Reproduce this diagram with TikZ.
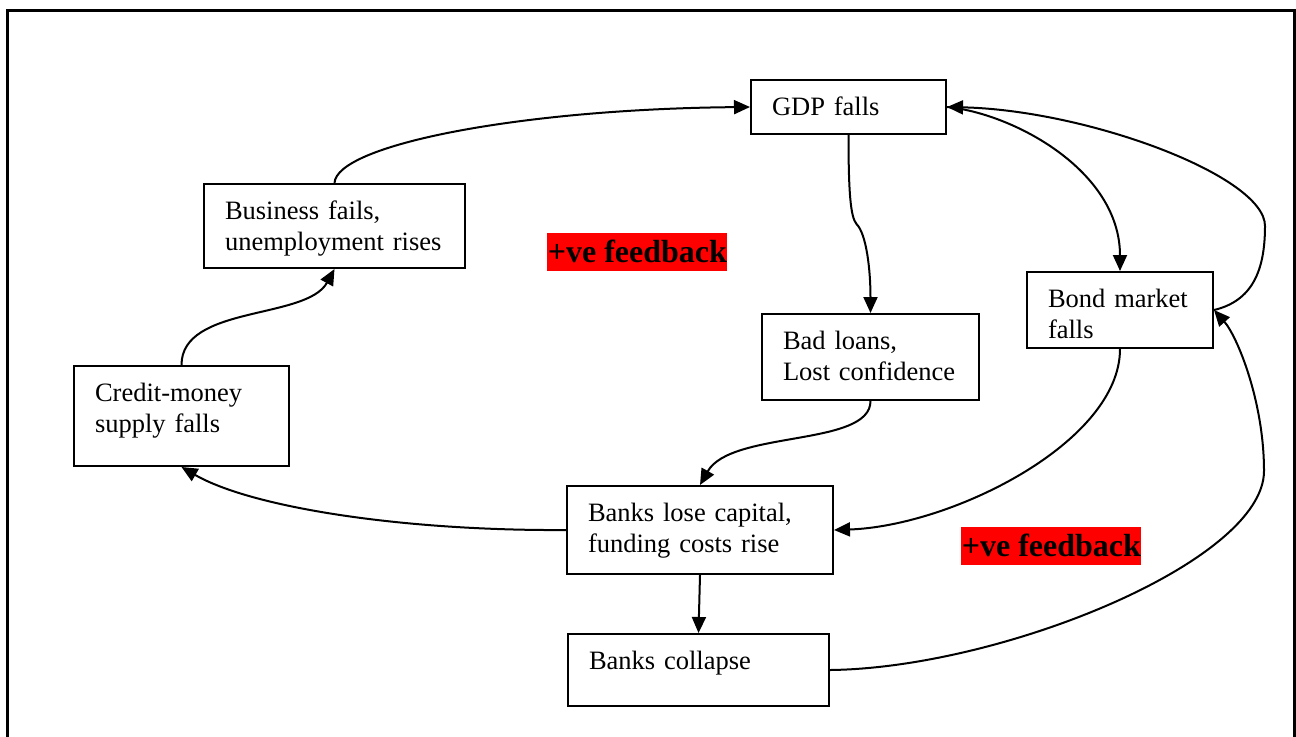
\documentclass[tikz,border=0pt]{standalone}
\usepackage{fontspec}
\setmainfont{Liberation Serif}
\usetikzlibrary{arrows.meta}
\begin{document}
\begin{tikzpicture}[x=0.5pt,y=-0.5pt,
  box/.style={draw, line width=1pt, anchor=north west, inner xsep=10.5pt, inner ysep=0pt,
    align=left, text height=17.5pt, font=\fontsize{13.25pt}{15.6pt}\selectfont},
  fb/.style={fill=red, anchor=north west, inner sep=0pt, text height=14.5pt, text depth=4.5pt,
    minimum width=90pt, font=\fontsize{16pt}{18pt}\selectfont\bfseries},
  conn/.style={line width=1pt, -{Triangle[length=8pt,width=7pt]}}]
\useasboundingbox (0,0) rectangle (1296,736);
\draw[line width=1.5pt] (7,745) -- (7,10) -- (1294,10) -- (1294,745);

\node[box, text width=76.5pt, text depth=9.5pt] (gdp) at (750,79) {GDP falls};
\node[box, text width=109.5pt, text depth=24.5pt] (biz) at (203,183) {Business fails,\\unemployment rises};
\node[box, text width=86.5pt, text depth=32.5pt] (credit) at (73,365) {Credit-money\\supply falls};
\node[box, text width=87.5pt, text depth=25.5pt] (bad) at (761,313) {Bad loans,\\Lost confidence};
\node[box, text width=72pt, text depth=20.5pt] (bond) at (1026,271) {Bond market\\falls};
\node[box, text width=112pt, text depth=26.5pt] (lose) at (566,485) {Banks lose capital,\\funding costs rise};
\node[box, text width=109.5pt, text depth=18.5pt] (collapse) at (567,633) {Banks collapse};

\node[fb] (fb1) at (547,233) {+ve feedback};
\node[fb] (fb2) at (961,527) {+ve feedback};

\draw[conn] (credit.north) .. controls +(0,-60) and +(-28,51) .. (biz.south);
\draw[conn] (biz.north) .. controls +(2,-38) and +(-230,2) .. (gdp.west);
\draw[conn] (gdp.south) .. controls +(0,57) and +(-6,-7) .. ++(8,89) .. controls +(10,10) and +(0,-43) .. (bad.north);
\draw[conn] (gdp.east) .. controls +(65,6) and +(0,-101) .. (bond.north);
\draw[conn] (bond.east) .. controls +(38,-9) and +(0,45) .. ++(51,-84) .. controls +(0,-50) and +(140,3) .. (gdp.east);
\draw[conn] (bad.south) .. controls +(0,46) and +(31,-55) .. (lose.north);
\draw[conn] (bond.south) .. controls +(0,93) and +(118,-4) .. (lose.east);
\draw[conn] (lose.west) .. controls +(-166,1) and +(69,40) .. (credit.south);
\draw[conn] (lose.south) -- (collapse.north);
\draw[conn] (collapse.east) .. controls +(172,-2) and +(0,90) .. ++(434,-199) .. controls +(0,-70) and +(23,26) .. (bond.east);
\end{tikzpicture}
\end{document}
